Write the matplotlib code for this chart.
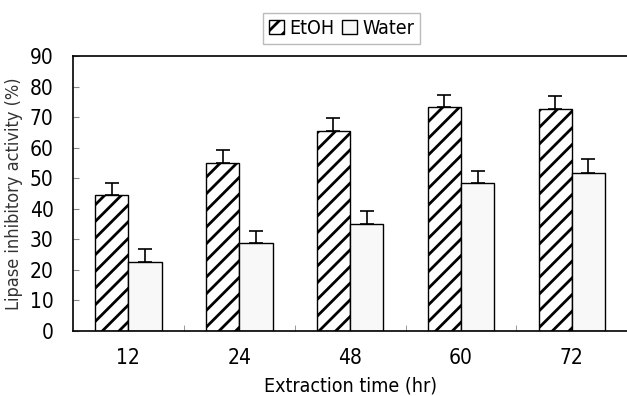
import numpy as np
import matplotlib
matplotlib.use("Agg")
import matplotlib.pyplot as plt

times = ["12", "24", "48", "60", "72"]
etoh = [44.5, 55.1, 65.5, 73.3, 72.7]
etoh_err = [4.0, 4.2, 4.1, 4.0, 4.3]
water = [22.5, 28.7, 35.0, 48.5, 51.8]
water_err = [4.3, 4.2, 4.3, 4.0, 4.4]

plt.rcParams['font.family'] = ['DejaVu Sans']
plt.rcParams['font.stretch'] = 'condensed'
plt.rcParams['hatch.linewidth'] = 2.0

fig = plt.figure(figsize=(6.27, 3.96), dpi=100)
ax = fig.add_axes([0.1164, 0.164, 0.884, 0.6946])

x = np.arange(len(times))
w = 0.3
ax.bar(x - 0.15, etoh, w, color="white", edgecolor="black", hatch="//",
       linewidth=1.0, label="EtOH", zorder=2)
ax.bar(x + 0.15, water, w, color="#f8f8f8", edgecolor="black",
       linewidth=1.0, label="Water", zorder=2)
ax.errorbar(x - 0.15, etoh, yerr=[np.zeros(5), etoh_err], fmt="none",
            ecolor="black", elinewidth=1.2, capsize=5, capthick=1.2, zorder=3)
ax.errorbar(x + 0.15, water, yerr=[np.zeros(5), water_err], fmt="none",
            ecolor="black", elinewidth=1.2, capsize=5, capthick=1.2, zorder=3)

ax.set_xlim(-0.5, 4.5)
ax.set_ylim(0, 90)
ax.set_yticks(range(0, 91, 10))
ax.set_xticks(x)
ax.set_xticklabels(times)
ax.set_xticks(np.arange(0.5, 4, 1), minor=True)
ax.tick_params(axis="x", which="major", length=0, pad=12, labelsize=15)
ax.tick_params(axis="x", which="minor", direction="in", length=4, color="#888888")
ax.tick_params(axis="y", direction="in", length=4, color="#888888", pad=14, labelsize=15)
for s in ["left", "bottom", "top"]:
    ax.spines[s].set_linewidth(1.2)
ax.spines["right"].set_visible(False)

ax.set_ylabel("Lipase inhibitory activity (%)", fontsize=13, labelpad=5, color="#333333")
ax.set_xlabel("Extraction time (hr)", fontsize=14, labelpad=6)

leg = ax.legend(loc="lower center", bbox_to_anchor=(0.485, 1.03), ncol=2,
                frameon=True, fancybox=False, fontsize=14, handlelength=0.75,
                handleheight=0.75, handletextpad=0.3, columnspacing=0.4,
                borderpad=0.3, borderaxespad=0.2, edgecolor="#aaaaaa")

fig.savefig("out.png", dpi=100)
